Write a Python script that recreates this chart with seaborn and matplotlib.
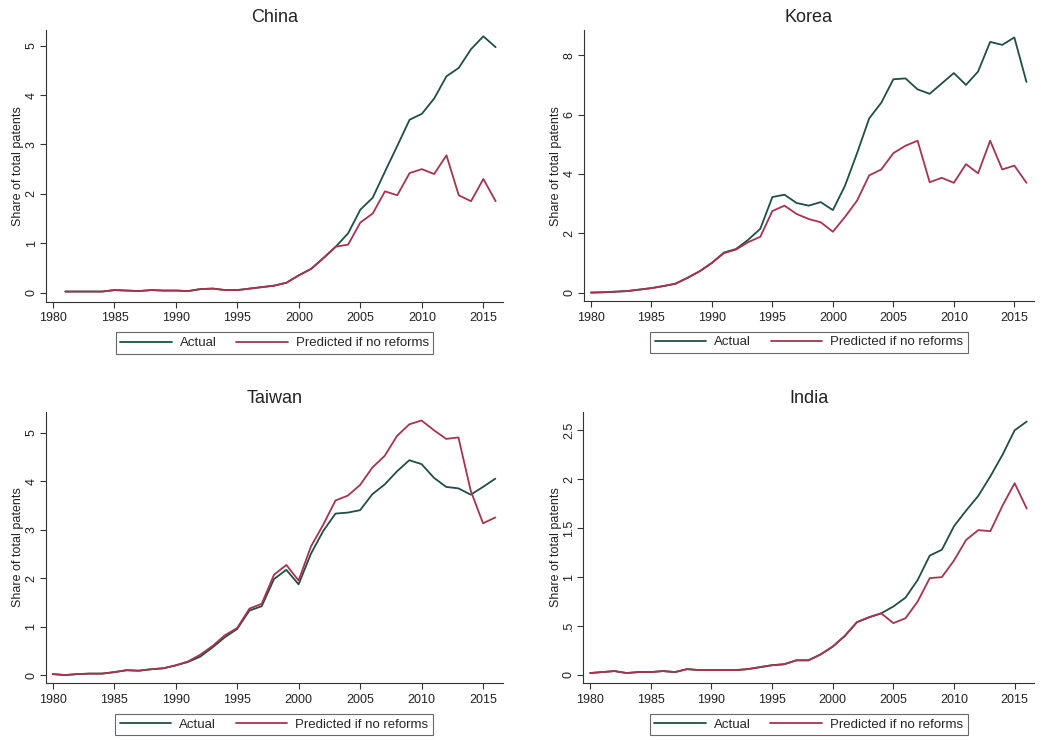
import numpy as np
import pandas as pd
import matplotlib
matplotlib.use("Agg")
import matplotlib.pyplot as plt
import seaborn as sns

# Data (share of total patents, %)
years_full = list(range(1980, 2017))
years_china = list(range(1981, 2017))

china_actual = [0.02, 0.02, 0.02, 0.02, 0.05, 0.04, 0.03, 0.05, 0.04, 0.04,
                0.03, 0.07, 0.08, 0.05, 0.05, 0.08, 0.11, 0.14, 0.20, 0.35,
                0.48, 0.70, 0.93, 1.20, 1.68, 1.92, 2.45, 2.97, 3.50, 3.62,
                3.93, 4.38, 4.55, 4.93, 5.19, 4.97]
china_pred = [0.02, 0.02, 0.02, 0.02, 0.05, 0.04, 0.03, 0.05, 0.04, 0.04,
              0.03, 0.07, 0.08, 0.05, 0.05, 0.08, 0.11, 0.14, 0.20, 0.35,
              0.48, 0.70, 0.93, 0.97, 1.42, 1.60, 2.05, 1.97, 2.42, 2.50,
              2.40, 2.78, 1.97, 1.85, 2.30, 1.85]

korea_actual = [0.00, 0.01, 0.03, 0.05, 0.10, 0.15, 0.22, 0.30, 0.50, 0.72,
                1.00, 1.35, 1.47, 1.78, 2.15, 3.22, 3.30, 3.02, 2.93, 3.05,
                2.78, 3.60, 4.70, 5.87, 6.40, 7.19, 7.22, 6.85, 6.70, 7.05,
                7.40, 7.00, 7.45, 8.45, 8.35, 8.60, 7.10]
korea_pred = [0.00, 0.01, 0.03, 0.05, 0.10, 0.15, 0.22, 0.30, 0.50, 0.72,
              1.00, 1.33, 1.45, 1.70, 1.88, 2.75, 2.93, 2.65, 2.48, 2.37,
              2.05, 2.55, 3.10, 3.95, 4.15, 4.70, 4.95, 5.12, 3.72, 3.87,
              3.70, 4.33, 4.02, 5.12, 4.15, 4.28, 3.70]

taiwan_actual = [0.02, 0.00, 0.02, 0.03, 0.03, 0.06, 0.10, 0.09, 0.12, 0.14,
                 0.20, 0.27, 0.38, 0.57, 0.78, 0.95, 1.33, 1.42, 1.98, 2.17,
                 1.87, 2.50, 2.97, 3.33, 3.35, 3.40, 3.73, 3.93, 4.20, 4.43,
                 4.35, 4.07, 3.88, 3.85, 3.72, 3.88, 4.05]
taiwan_pred = [0.02, 0.00, 0.02, 0.03, 0.03, 0.06, 0.10, 0.09, 0.12, 0.14,
               0.20, 0.28, 0.42, 0.60, 0.82, 0.97, 1.37, 1.47, 2.07, 2.27,
               1.95, 2.65, 3.10, 3.60, 3.70, 3.92, 4.28, 4.52, 4.93, 5.17,
               5.25, 5.05, 4.87, 4.90, 3.80, 3.13, 3.25]

india_actual = [0.02, 0.03, 0.04, 0.02, 0.03, 0.03, 0.04, 0.03, 0.06, 0.05,
                0.05, 0.05, 0.05, 0.06, 0.08, 0.10, 0.11, 0.15, 0.15, 0.21,
                0.29, 0.40, 0.54, 0.59, 0.63, 0.70, 0.79, 0.97, 1.22, 1.28,
                1.52, 1.68, 1.83, 2.03, 2.25, 2.50, 2.59]
india_pred = [0.02, 0.03, 0.04, 0.02, 0.03, 0.03, 0.04, 0.03, 0.06, 0.05,
              0.05, 0.05, 0.05, 0.06, 0.08, 0.10, 0.11, 0.15, 0.15, 0.21,
              0.29, 0.40, 0.54, 0.59, 0.63, 0.53, 0.58, 0.75, 0.99, 1.00,
              1.17, 1.38, 1.48, 1.47, 1.73, 1.96, 1.70]

series_names = ["Actual", "Predicted if no reforms"]
palette = {"Actual": "#1f4f45", "Predicted if no reforms": "#a8334f"}

panels = [
    # name, years, actual, predicted, yticks, ytick labels, ylim
    ("China", years_china, china_actual, china_pred,
     [0, 1, 2, 3, 4, 5], ["0", "1", "2", "3", "4", "5"], (-0.19, 5.32)),
    ("Korea", years_full, korea_actual, korea_pred,
     [0, 2, 4, 6, 8], ["0", "2", "4", "6", "8"], (-0.29, 8.84)),
    ("Taiwan", years_full, taiwan_actual, taiwan_pred,
     [0, 1, 2, 3, 4, 5], ["0", "1", "2", "3", "4", "5"], (-0.17, 5.43)),
    ("India", years_full, india_actual, india_pred,
     [0, 0.5, 1, 1.5, 2, 2.5], ["0", ".5", "1", "1.5", "2", "2.5"], (-0.085, 2.69)),
]

# axes boxes in figure fractions (left, bottom, width, height)
boxes = [
    (0.0442, 0.592, 0.439, 0.3676),
    (0.561, 0.593, 0.432, 0.366),
    (0.0439, 0.0766, 0.439, 0.367),
    (0.5603, 0.0766, 0.433, 0.367),
]

sns.set_style("white")
plt.rcParams["font.family"] = ["Liberation Sans", "DejaVu Sans"]

fig = plt.figure(figsize=(10.41, 7.40), dpi=100)
fig.patch.set_facecolor("white")

for (name, yrs, act, pred, yt, ytl, ylim), box in zip(panels, boxes):
    df = pd.DataFrame({
        "year": yrs + yrs,
        "share": act + pred,
        "series": [series_names[0]] * len(yrs) + [series_names[1]] * len(yrs),
    })
    ax = fig.add_axes(box)
    sns.lineplot(data=df, x="year", y="share", hue="series", hue_order=series_names,
                 palette=palette, linewidth=1.3, ax=ax)
    ax.set_xlim(1979.43, 2016.6)
    ax.set_ylim(*ylim)
    ax.set_xticks(list(range(1980, 2016, 5)))
    ax.set_yticks(yt)
    ax.set_yticklabels(ytl, rotation=90, va="center")
    ax.set_xlabel("")
    ax.set_ylabel("Share of total patents", fontsize=9, color="#222222", labelpad=1)
    ax.set_title(name, fontsize=13, color="#222222", pad=6)
    for s in ["top", "right"]:
        ax.spines[s].set_visible(False)
    for s in ["left", "bottom"]:
        ax.spines[s].set_color("#333333")
        ax.spines[s].set_linewidth(0.8)
    ax.tick_params(axis="both", which="both", direction="out", length=4, width=0.8,
                   color="#333333", labelsize=9, labelcolor="#222222", left=True, bottom=True)
    ax.tick_params(axis="y", pad=2)
    sns.move_legend(ax, "upper center", bbox_to_anchor=(0.5, -0.088), ncol=2,
                    title=None, frameon=True, fancybox=False, fontsize=9.5,
                    handlelength=3.9, handletextpad=0.6, columnspacing=1.5,
                    borderpad=0.35, edgecolor="#444444")
    leg = ax.get_legend()
    leg.get_frame().set_linewidth(0.8)

fig.savefig("out.png", dpi=100, facecolor="white")
